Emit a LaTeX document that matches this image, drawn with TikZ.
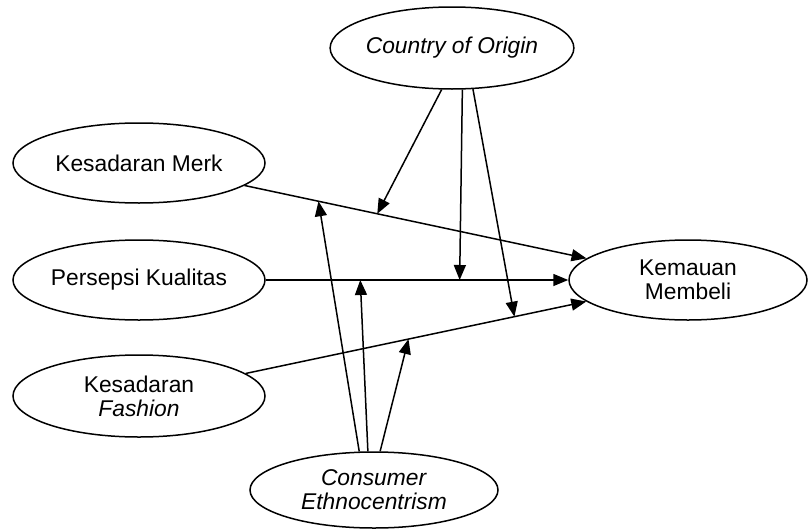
\documentclass[tikz,border=0pt]{standalone}
\usepackage{fontspec}
\setmainfont{Liberation Sans}
\usetikzlibrary{arrows.meta,shapes.geometric}
\tikzset{
  construct/.style={ellipse,draw,line width=0.75pt,inner sep=0pt,minimum width=126pt,minimum height=40pt,align=center,font=\fontsize{11.4}{12}\selectfont},
  link/.style={line width=0.75pt,-{Triangle[length=7.5pt,width=6pt]}}
}
\begin{document}
\begin{tikzpicture}[x=0.5pt,y=-0.5pt]
  \useasboundingbox (0,0) rectangle (808,530);
  \node[construct,minimum width=110pt,minimum height=41pt] (origin) at (452,48) {\textit{Country of Origin}};
  \node[construct] (merk) at (139,163) {Kesadaran Merk};
  \node[construct] (persepsi) at (139,280) {Persepsi Kualitas};
  \node[construct,minimum height=41pt] (fashion) at (139,396) {Kesadaran\\\textit{Fashion}};
  \node[construct,minimum width=119pt] (kemauan) at (688,280) {Kemauan\\Membeli};
  \node[construct,minimum width=124pt,minimum height=38pt] (ethno) at (374,490) {\textit{Consumer}\\\textit{Ethnocentrism}};
  % main paths
  \draw[link] (merk) -- (kemauan) coordinate[pos=.388] (merkO) coordinate[pos=.216] (merkE);
  \draw[link] (persepsi) -- (kemauan) coordinate[pos=.641] (persO) coordinate[pos=.3125] (persE);
  \draw[link] (fashion) -- (kemauan) coordinate[pos=.789] (fashO) coordinate[pos=.478] (fashE);
  % moderation
  \draw[link] (origin.256) -- (merkO);
  \draw[link] (origin.284) -- (persO);
  \draw[link] (origin.297) -- (fashO);
  \draw[link] (ethno.111) -- (merkE);
  \draw[link] (ethno.99) -- (persE);
  \draw[link] (ethno.81) -- (fashE);
\end{tikzpicture}
\end{document}
